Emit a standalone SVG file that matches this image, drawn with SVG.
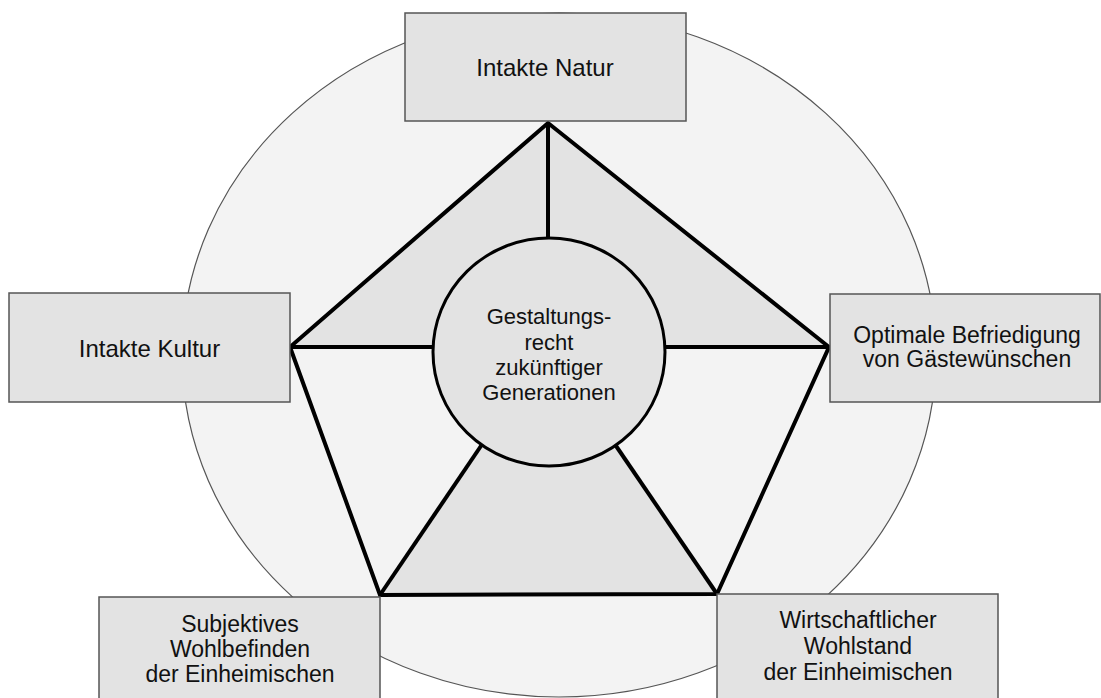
<svg xmlns="http://www.w3.org/2000/svg" width="1101" height="698" viewBox="0 0 1101 698">
<style>
.box{fill:#e3e3e3;stroke:#555;stroke-width:1.5}
.t{font-family:"Liberation Sans",Arial,sans-serif;fill:#111;text-anchor:middle}
.edge{stroke:#000;stroke-width:4;fill:none;stroke-linejoin:miter;stroke-linecap:butt}
</style>
<rect width="1101" height="698" fill="#fff"/>
<g id="outer-circle">
<ellipse cx="559" cy="355" rx="377" ry="342" fill="#f3f3f3" stroke="#555" stroke-width="1.2"/>
</g>
<g id="pentagon-fills">
<polygon points="548,123 290,347 829,347" fill="#e3e3e3"/>
<polygon points="380,595 717,594 617,447 480,447" fill="#e3e3e3"/>
</g>
<g id="connectors">
<polygon class="edge" points="548,123 829,347 717,594 380,595 290,347"/>
<line class="edge" x1="548" y1="123" x2="548" y2="240"/>
<line class="edge" x1="290" y1="347" x2="440" y2="347"/>
<line class="edge" x1="829" y1="347" x2="660" y2="347"/>
<line class="edge" x1="380" y1="595" x2="485" y2="440"/>
<line class="edge" x1="717" y1="594" x2="612" y2="440"/>
</g>
<g id="center">
<ellipse cx="549" cy="352" rx="116" ry="114" fill="#e3e3e3" stroke="#000" stroke-width="3"/>
<text class="t" font-size="22" x="549" y="324">Gestaltungs-</text>
<text class="t" font-size="22" x="549" y="350">recht</text>
<text class="t" font-size="22" x="549" y="375">zukünftiger</text>
<text class="t" font-size="22" x="549" y="400">Generationen</text>
</g>
<g id="natur">
<rect class="box" x="405" y="13" width="281" height="108"/>
<text class="t" font-size="24" x="545" y="76">Intakte Natur</text>
</g>
<g id="kultur">
<rect class="box" x="9" y="293" width="281" height="109"/>
<text class="t" font-size="24" x="149.5" y="357">Intakte Kultur</text>
</g>
<g id="gaeste">
<rect class="box" x="830" y="294" width="270" height="108"/>
<text class="t" font-size="23" x="967" y="343">Optimale Befriedigung</text>
<text class="t" font-size="23" x="967" y="367">von Gästewünschen</text>
</g>
<g id="wohlbefinden">
<rect class="box" x="99" y="597" width="281" height="120"/>
<text class="t" font-size="23" x="240" y="632">Subjektives</text>
<text class="t" font-size="23" x="240" y="657">Wohlbefinden</text>
<text class="t" font-size="23" x="240" y="682">der Einheimischen</text>
</g>
<g id="wohlstand">
<rect class="box" x="717" y="594" width="281" height="120"/>
<text class="t" font-size="23" x="858" y="628">Wirtschaftlicher</text>
<text class="t" font-size="23" x="858" y="654">Wohlstand</text>
<text class="t" font-size="23" x="858" y="680">der Einheimischen</text>
</g>
</svg>
